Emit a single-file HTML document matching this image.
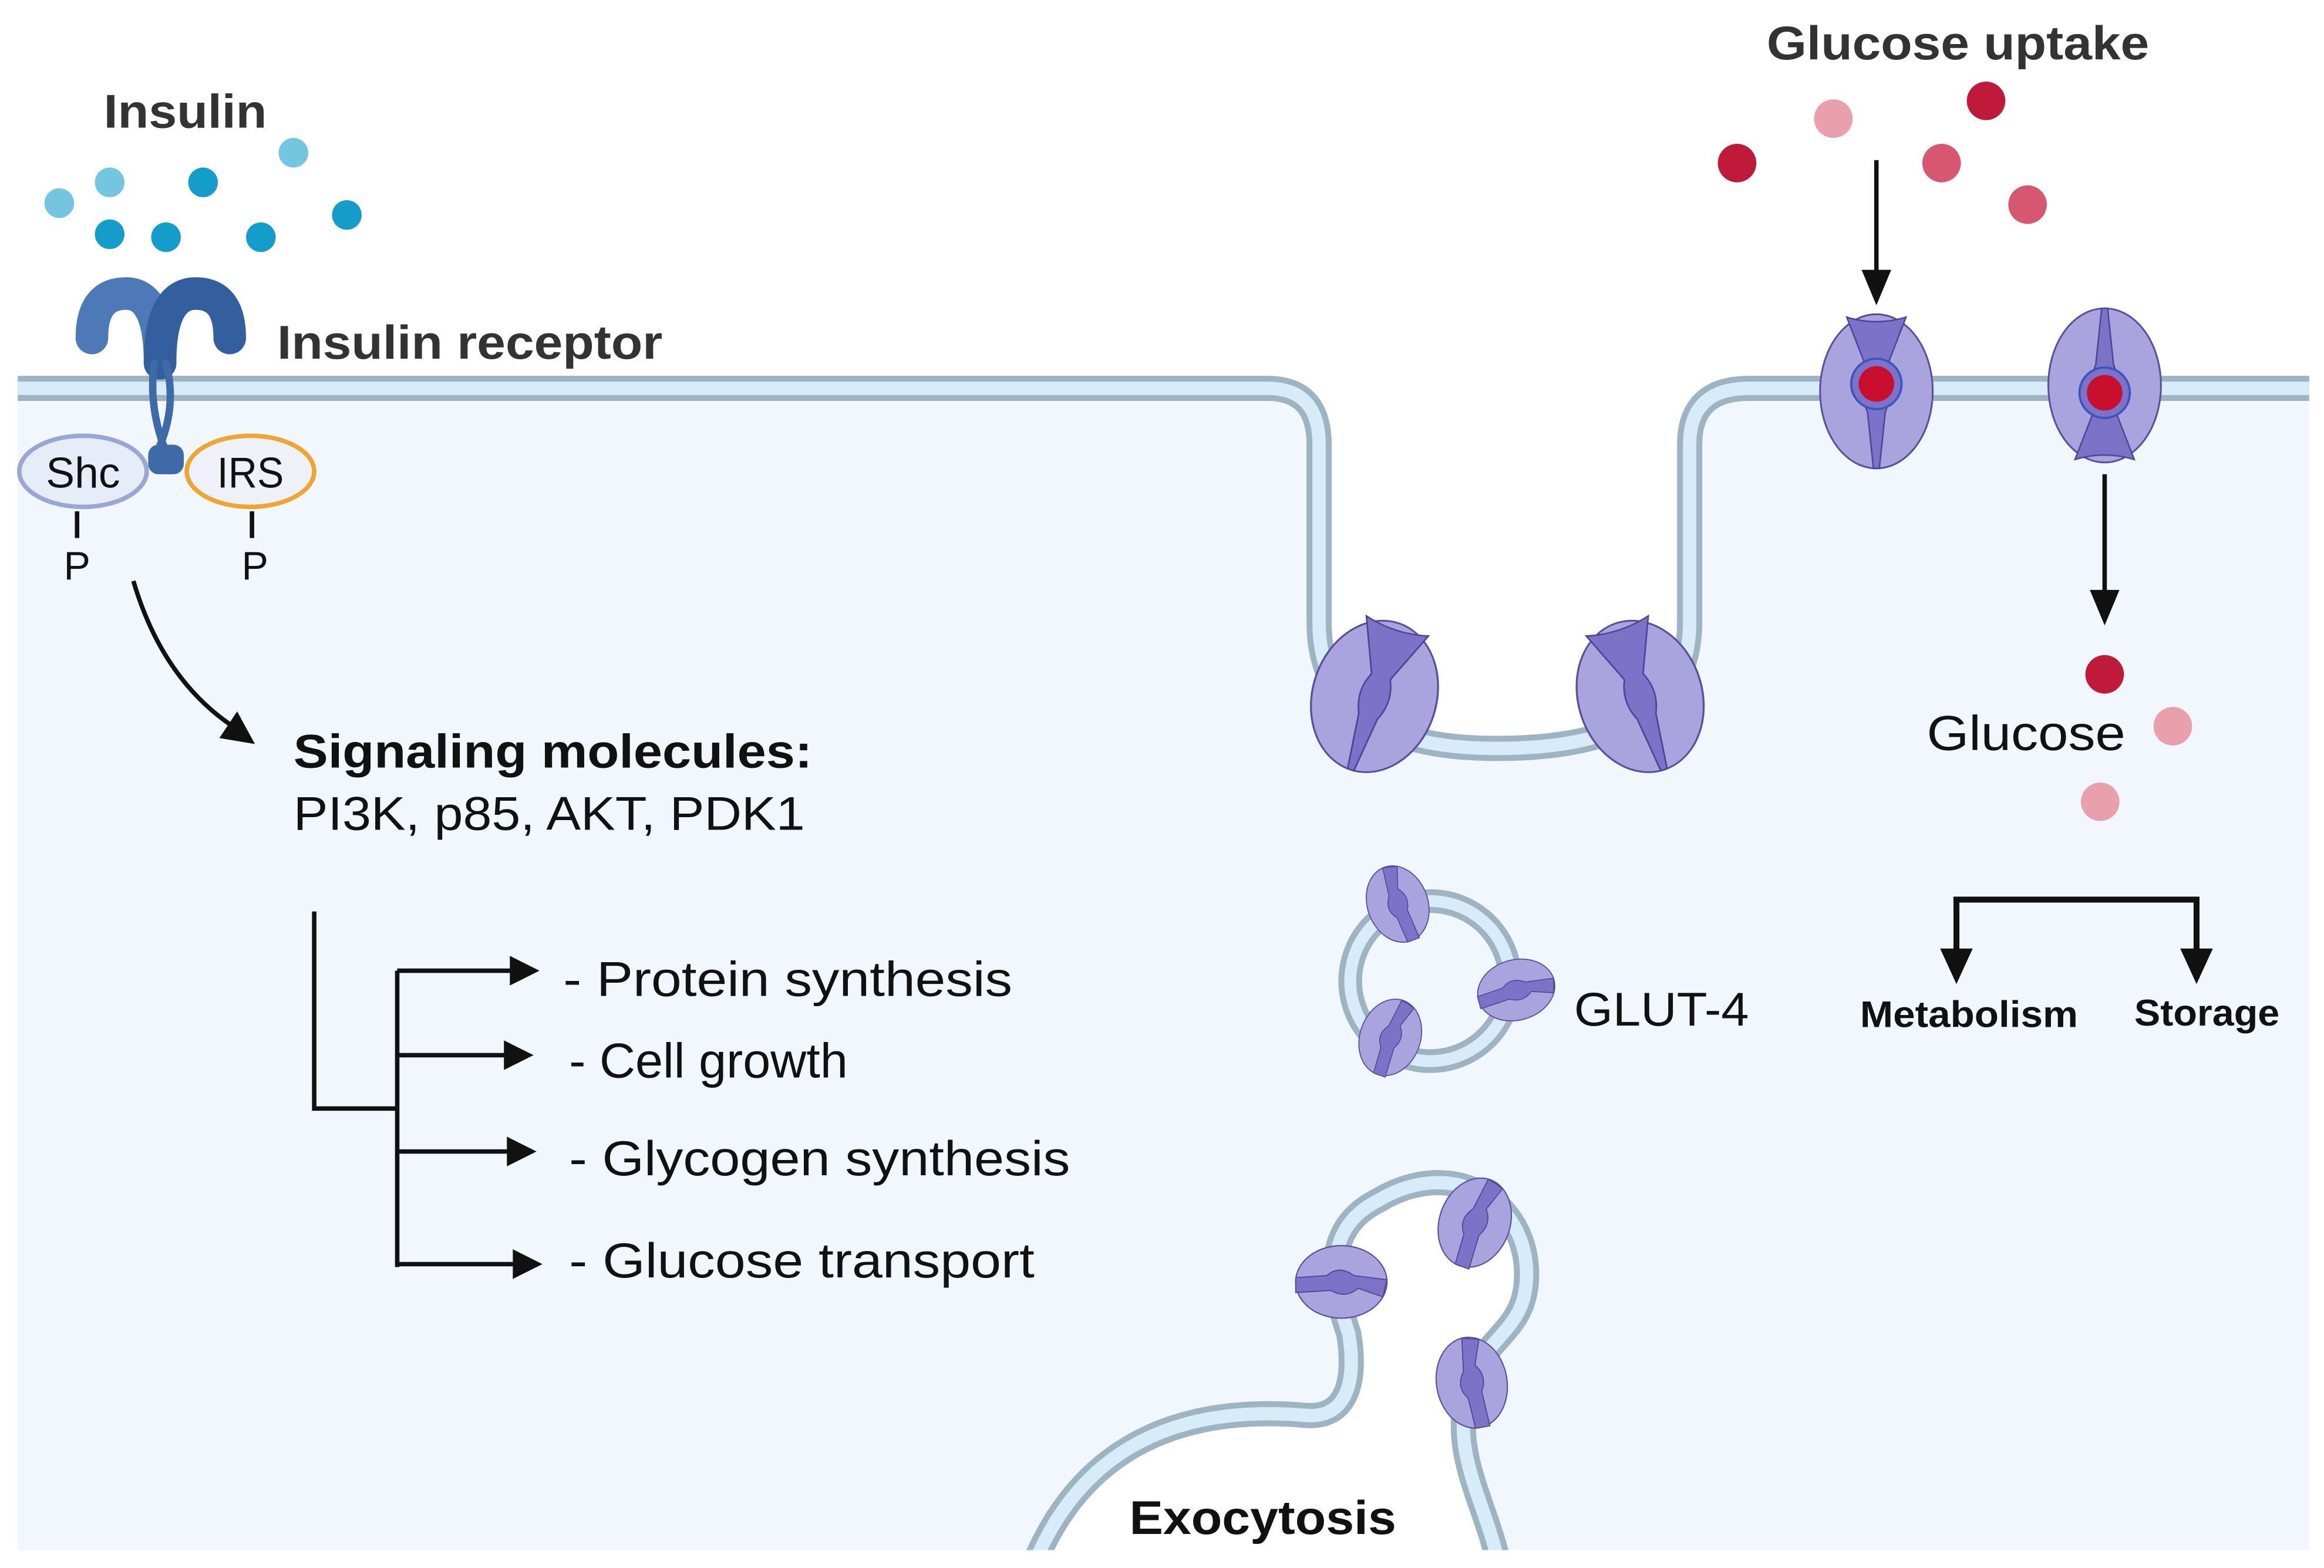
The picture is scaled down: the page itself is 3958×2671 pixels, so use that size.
<!DOCTYPE html>
<html><head><meta charset="utf-8"><style>
html,body{margin:0;padding:0;background:#fff;}
svg{display:block;}
text{font-family:"Liberation Sans",Arial,sans-serif;}
</style></head><body>
<svg width="3958" height="2671" viewBox="0 0 1568 1058" xmlns="http://www.w3.org/2000/svg">
<defs>
<g id="tr">
<ellipse cx="0" cy="2" rx="38" ry="52" fill="#a9a3de" stroke="#5a4f9c" stroke-width="1.2"/>
<path d="M-20,-48 Q0,-42 20,-48 L6,-12 Q12,2 6,16 L2,54 L-2,54 L-6,16 Q-12,2 -6,-12 Z" fill="#7c72c8" stroke="#4f4596" stroke-width="1"/>
</g>
<g id="trs">
<ellipse cx="0" cy="0" rx="34" ry="44" fill="#a9a3de" stroke="#5a4f9c" stroke-width="1.2"/>
<path d="M-2,-44 L14,-40 L6,-16 Q16,-4 8,10 L10,44 L-4,44 L-6,14 Q-16,2 -6,-12 Z" fill="#7c72c8" stroke="#4f4596" stroke-width="1"/>
</g>
</defs>
<rect x="12" y="262" width="1546" height="784" fill="#f1f7fc"/>
<path d="M855,255 Q890,262 890,300 V420 Q890,505 1010,505 Q1140,505 1140,420 V300 Q1140,262 1180,255 Z" fill="#fff"/>
<path d="M700,1050 C740,960 820,950 880,955 C910,958 915,930 910,900 C900,870 890,830 930,810 C980,780 1030,810 1030,860 C1030,900 1000,900 990,940 C980,980 1000,1010 1010,1050 Z" fill="#fff"/>
<g fill="none" stroke-linecap="butt">
<path d="M12,262 H855 Q890,262 890,300 V420 Q890,505 1010,505 Q1140,505 1140,420 V300 Q1140,262 1180,262 H1558" stroke="#9fb4c3" stroke-width="17"/>
<path d="M12,262 H855 Q890,262 890,300 V420 Q890,505 1010,505 Q1140,505 1140,420 V300 Q1140,262 1180,262 H1558" stroke="#d7ebf8" stroke-width="9"/>
<circle cx="965" cy="662" r="54" stroke="#9fb4c3" stroke-width="16"/>
<circle cx="965" cy="662" r="54" stroke="#d7ebf8" stroke-width="8"/>
<path d="M700,1050 C740,960 820,950 880,955 C910,958 915,930 910,900 C900,870 890,830 930,810 C980,780 1030,810 1030,860 C1030,900 1000,900 990,940 C980,980 1000,1010 1010,1050" stroke="#9fb4c3" stroke-width="17"/>
<path d="M700,1050 C740,960 820,950 880,955 C910,958 915,930 910,900 C900,870 890,830 930,810 C980,780 1030,810 1030,860 C1030,900 1000,900 990,940 C980,980 1000,1010 1010,1050" stroke="#d7ebf8" stroke-width="9"/>
</g>
<rect x="0" y="1046" width="1568" height="12" fill="#fff"/>
<use href="#tr" transform="translate(928,468) rotate(18) scale(1.1,1.0)"/>
<use href="#tr" transform="translate(1106,468) rotate(-18) scale(1.1,1.0)"/>
<use href="#tr" transform="translate(1266,262)"/>
<use href="#tr" transform="translate(1420,262) rotate(180)"/>
<circle cx="1266" cy="259" r="17" fill="#7c72c8" stroke="#3a55c0" stroke-width="1.5"/>
<circle cx="1266" cy="259" r="12" fill="#c8102e"/>
<circle cx="1420" cy="265" r="17" fill="#7c72c8" stroke="#3a55c0" stroke-width="1.5"/>
<circle cx="1420" cy="265" r="12" fill="#c8102e"/>
<use href="#trs" transform="translate(943,610) rotate(-20) scale(0.6)"/>
<use href="#trs" transform="translate(1023,668) rotate(75) scale(0.6)"/>
<use href="#trs" transform="translate(938,700) rotate(20) scale(0.6)"/>
<use href="#trs" transform="translate(905,865) rotate(90) scale(0.72,0.7)"/>
<use href="#trs" transform="translate(995,825) rotate(20) scale(0.7)"/>
<use href="#trs" transform="translate(993,933) rotate(-10) scale(0.7)"/>
<g>
<circle cx="40" cy="137" r="10" fill="#74c5e0"/>
<circle cx="74" cy="123" r="10" fill="#74c5e0"/>
<circle cx="198" cy="103" r="10" fill="#74c5e0"/>
<circle cx="137" cy="123" r="10" fill="#149ccb"/>
<circle cx="74" cy="158" r="10" fill="#149ccb"/>
<circle cx="112" cy="160" r="10" fill="#149ccb"/>
<circle cx="176" cy="160" r="10" fill="#149ccb"/>
<circle cx="234" cy="145" r="10" fill="#149ccb"/>
</g>
<g fill="none" stroke-linecap="round">
<path d="M62,228 Q62,198 85,198 Q108,198 108,245" stroke="#4d79b8" stroke-width="22"/>
<path d="M155,228 Q155,198 132,198 Q108,198 108,245" stroke="#345f9f" stroke-width="22"/>
<path d="M104,245 Q100,275 112,305 M112,245 Q120,275 106,305" stroke="#3e6aa8" stroke-width="5"/>
</g>
<rect x="100" y="300" width="24" height="20" rx="7" fill="#3e6aa8"/>
<ellipse cx="56" cy="318" rx="43" ry="24" fill="#e6edf8" stroke="#9aa6d4" stroke-width="3"/>
<ellipse cx="169" cy="318" rx="43" ry="24" fill="#eef2f8" stroke="#f0a431" stroke-width="3"/>
<text x="56" y="329" font-size="29" text-anchor="middle" fill="#111" textLength="50" lengthAdjust="spacingAndGlyphs">Shc</text>
<text x="169" y="329" font-size="29" text-anchor="middle" fill="#111" textLength="45" lengthAdjust="spacingAndGlyphs">IRS</text>
<path d="M52,345 V363 M170,345 V363" stroke="#111" stroke-width="3"/>
<text x="52" y="391" font-size="27" text-anchor="middle" fill="#111">P</text>
<text x="172" y="391" font-size="27" text-anchor="middle" fill="#111">P</text>
<path d="M90,392 Q110,460 160,492" fill="none" stroke="#111" stroke-width="3"/>
<path d="M172,502 L148,498 L160,480 Z" fill="#111"/>
<text x="70" y="86" font-size="32" font-weight="bold" fill="#333" textLength="110" lengthAdjust="spacingAndGlyphs">Insulin</text>
<text x="187" y="242" font-size="32" font-weight="bold" fill="#333" textLength="260" lengthAdjust="spacingAndGlyphs">Insulin receptor</text>
<text x="198" y="518" font-size="32" font-weight="bold" fill="#111" textLength="350" lengthAdjust="spacingAndGlyphs">Signaling molecules:</text>
<text x="198" y="560" font-size="32" fill="#111" textLength="345" lengthAdjust="spacingAndGlyphs">PI3K, p85, AKT, PDK1</text>
<g stroke="#111" stroke-width="3" fill="none">
<path d="M212,615 V748 H268 M268,655 V855"/>
<path d="M268,655 H346 M268,712 H346 M268,777 H346 M268,853 H346"/>
</g>
<g fill="#111">
<path d="M364,655 L344,645 L344,665 Z"/>
<path d="M360,712 L340,702 L340,722 Z"/>
<path d="M362,777 L342,767 L342,787 Z"/>
<path d="M366,853 L346,843 L346,863 Z"/>
</g>
<text x="380" y="672" font-size="33" fill="#111" textLength="303" lengthAdjust="spacingAndGlyphs">- Protein synthesis</text>
<text x="384" y="727" font-size="33" fill="#111" textLength="188" lengthAdjust="spacingAndGlyphs">- Cell growth</text>
<text x="384" y="793" font-size="33" fill="#111" textLength="338" lengthAdjust="spacingAndGlyphs">- Glycogen synthesis</text>
<text x="384" y="862" font-size="33" fill="#111" textLength="314" lengthAdjust="spacingAndGlyphs">- Glucose transport</text>
<text x="1192" y="40" font-size="32" font-weight="bold" fill="#333" textLength="258" lengthAdjust="spacingAndGlyphs">Glucose uptake</text>
<circle cx="1172" cy="110" r="13" fill="#c01a3a"/>
<circle cx="1237" cy="80" r="13" fill="#e8a0ad"/>
<circle cx="1340" cy="68" r="13" fill="#c01a3a"/>
<circle cx="1310" cy="110" r="13" fill="#d6576f"/>
<circle cx="1368" cy="138" r="13" fill="#d6576f"/>
<path d="M1266,108 V185" stroke="#111" stroke-width="3"/>
<path d="M1266,206 L1256,182 L1276,182 Z" fill="#111"/>
<path d="M1420,320 V400" stroke="#111" stroke-width="3"/>
<path d="M1420,422 L1410,398 L1430,398 Z" fill="#111"/>
<circle cx="1420" cy="455" r="13" fill="#c01a3a"/>
<circle cx="1466" cy="490" r="13" fill="#e8a0ad"/>
<circle cx="1417" cy="541" r="13" fill="#e8a0ad"/>
<text x="1300" y="506" font-size="33" fill="#111" textLength="134" lengthAdjust="spacingAndGlyphs">Glucose</text>
<path d="M1320,660 V607 H1482 V660" stroke="#111" stroke-width="4" fill="none"/>
<path d="M1320,664 L1309,640 L1331,640 Z M1482,664 L1471,640 L1493,640 Z" fill="#111"/>
<text x="1255" y="693" font-size="25" font-weight="bold" fill="#111" textLength="147" lengthAdjust="spacingAndGlyphs">Metabolism</text>
<text x="1440" y="692" font-size="25" font-weight="bold" fill="#111" textLength="98" lengthAdjust="spacingAndGlyphs">Storage</text>
<text x="1062" y="692" font-size="32" fill="#111" textLength="118" lengthAdjust="spacingAndGlyphs">GLUT-4</text>
<text x="762" y="1035" font-size="32" font-weight="bold" fill="#111" textLength="180" lengthAdjust="spacingAndGlyphs">Exocytosis</text>
</svg>
</body></html>
